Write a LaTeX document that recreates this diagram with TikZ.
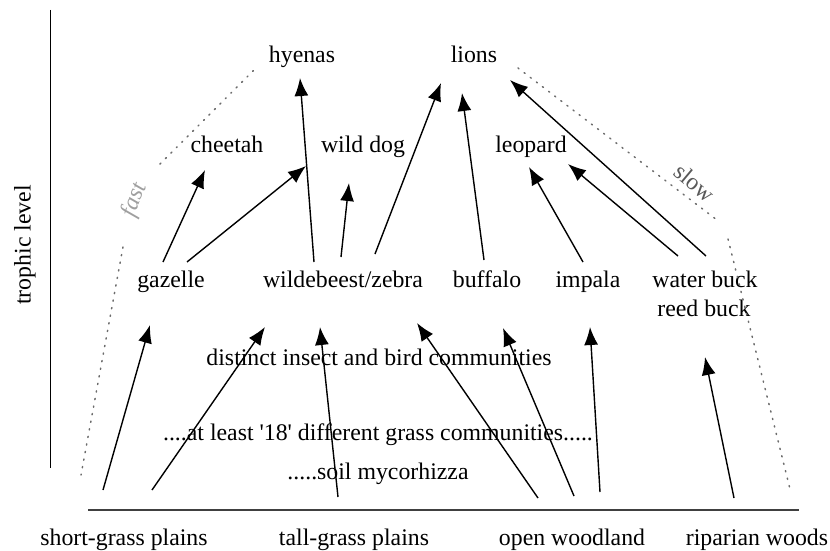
\documentclass[tikz,border=0pt]{standalone}
\usepackage{fontspec}
\setmainfont{Liberation Serif}
\usetikzlibrary{arrows.meta}
\begin{document}
\begin{tikzpicture}[x=1pt,y=-1pt,
  lbl/.style={font=\fontsize{23.8}{28}\selectfont, inner sep=0pt, anchor=base},
  arr/.style={line width=1.4pt, -{Latex[length=18pt,width=14pt]}},
  dots/.style={line width=1.5pt, gray!85!black, dash pattern=on 1.2pt off 6.5pt, line cap=round},
  axis/.style={line width=1pt, black}]
\useasboundingbox (0,0) rectangle (830,551);
% labels
\node[lbl] (hy) at (302,63) {hyenas};
\node[lbl] (li) at (474,63) {lions};
\node[lbl] (ch) at (227,152) {cheetah};
\node[lbl] (wd) at (363,152) {wild dog};
\node[lbl] (le) at (531,152) {leopard};
\node[lbl] (gz) at (171,287) {gazelle};
\node[lbl] (wb) at (343,287) {wildebeest/zebra};
\node[lbl] (bu) at (487,287) {buffalo};
\node[lbl] (im) at (588,287) {impala};
\node[lbl] (wa) at (705,287) {water buck};
\node[lbl] (rb) at (704,316) {reed buck};
\node[lbl] (ins) at (379,365) {distinct insect and bird communities};
\node[lbl] (gr) at (378,440) {....at least \textquotesingle18\textquotesingle{} different grass communities.....};
\node[lbl] (so) at (378,479) {.....soil mycorhizza};
\node[lbl] (sg) at (124,545) {short-grass plains};
\node[lbl] (tg) at (354,545) {tall-grass plains};
\node[lbl] (ow) at (572,545) {open woodland};
\node[lbl] (rw) at (757,545) {riparian woods};
\node[lbl, anchor=center, rotate=90] (tl) at (25,245) {trophic level};
\node[lbl, anchor=center, rotate=70, text=gray!75, font=\fontsize{23.8}{28}\selectfont\itshape] (fa) at (135,200) {fast};
\node[lbl, anchor=center, rotate=-40, text=black!65] (sl) at (695,183) {slow};
% axes
\coordinate (axT) at (50,10);
\coordinate (axB) at (50,468);
\coordinate (blL) at (88,510);
\coordinate (blR) at (799,510);
\draw[axis] (axT) -- (axB);
\draw[line width=1.2pt, black!75] (blL) -- (blR);
% dotted envelope
\coordinate (f1) at (160,164);
\coordinate (f2) at (255,69);
\coordinate (f3) at (123,247);
\coordinate (f4) at (81,475);
\coordinate (s1) at (518,68);
\coordinate (s2) at (717,220);
\coordinate (s3) at (728,239);
\coordinate (s4) at (791,493);
\draw[dots] (f1) -- (f2);
\draw[dots] (f3) -- (f4);
\draw[dots] (s1) -- (s2);
\draw[dots] (s3) -- (s4);
% predator arrows
\draw[arr] ([shift={(-8,-25)}]gz.base) -- ([shift={(-22,18)}]ch.base);
\draw[arr] ([shift={(16,-25)}]gz.base) -- ([shift={(-57,14)}]wd.base);
\draw[arr] ([shift={(-29,-25)}]wb.base) -- ([shift={(-2,15)}]hy.base);
\draw[arr] ([shift={(-2,-30)}]wb.base) -- ([shift={(-14,31)}]wd.base);
\draw[arr] ([shift={(32,-33)}]wb.base) -- ([shift={(-33,20)}]li.base);
\draw[arr] ([shift={(-3,-27)}]bu.base) -- ([shift={(-12,30)}]li.base);
\draw[arr] ([shift={(-5,-25)}]im.base) -- ([shift={(-2,15)}]le.base);
\draw[arr] ([shift={(-27,-31)}]wa.base) -- ([shift={(37,12)}]le.base);
\draw[arr] ([shift={(1,-31)}]wa.base) -- ([shift={(36,17)}]li.base);
% habitat arrows
\draw[arr] ([shift={(-21,-55)}]sg.base) -- ([shift={(-21,38)}]gz.base);
\draw[arr] ([shift={(28,-55)}]sg.base) -- ([shift={(-78,40)}]wb.base);
\draw[arr] ([shift={(-16,-48)}]tg.base) -- ([shift={(-23,40)}]wb.base);
\draw[arr] ([shift={(-34,-47)}]ow.base) -- ([shift={(74,36)}]wb.base);
\draw[arr] ([shift={(2,-49)}]ow.base) -- ([shift={(16,41)}]bu.base);
\draw[arr] ([shift={(28,-53)}]ow.base) -- ([shift={(2,40)}]im.base);
\draw[arr] ([shift={(-23,-47)}]rw.base) -- ([shift={(1,41)}]rb.base);
\end{tikzpicture}
\end{document}
